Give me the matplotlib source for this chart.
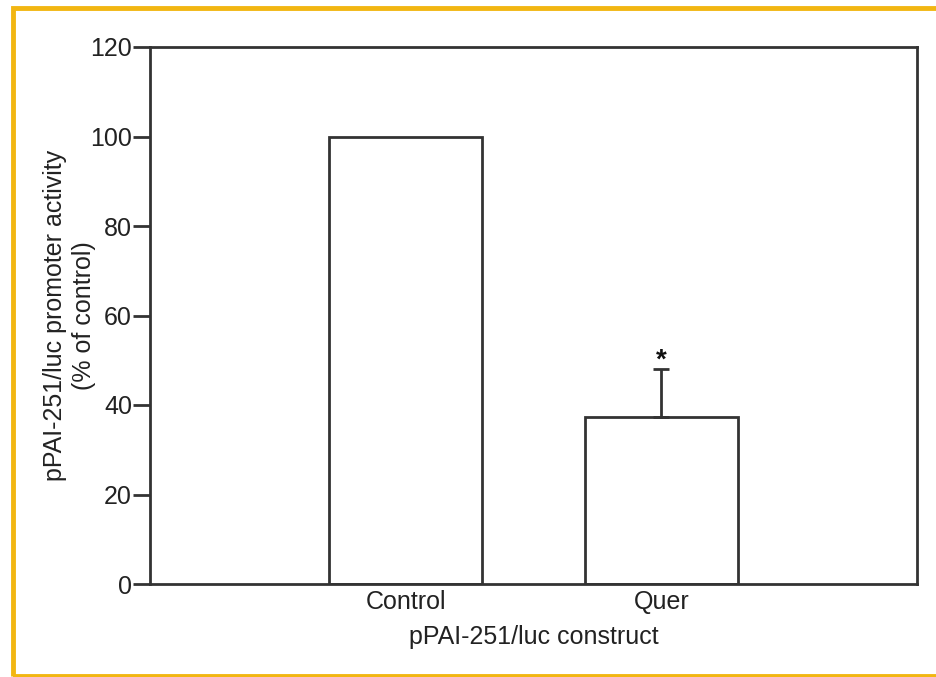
import matplotlib.pyplot as plt
from matplotlib.patches import Rectangle

plt.rcParams['font.family'] = ['Liberation Sans', 'DejaVu Sans']

# data
groups = ["Control", "Quer"]
activity = [100, 37.3]
err_up = [0, 10.7]
marks = ["", "*"]

fig = plt.figure(figsize=(9.37, 6.77), dpi=100)
ax = fig.add_axes([150/937, 1 - 584/677, (917-150)/937, (584-47)/677])

dark = "#333333"
txt = "#222222"
pos = [1, 2]
ax.bar(pos, activity, width=0.6, color="white", edgecolor=dark, linewidth=2, zorder=2)
ax.errorbar(pos[1], activity[1], yerr=[[0], [err_up[1]]], fmt="none",
            ecolor=dark, elinewidth=2, capsize=6, capthick=2, zorder=3)
for x, v, e, m in zip(pos, activity, err_up, marks):
    if m:
        ax.text(x, v + e - 1.0, m, ha="center", va="bottom", fontsize=20,
                fontweight="bold", color="#111111")

ax.set_xlim(0, 3)
ax.set_ylim(0, 120)
ax.set_yticks(range(0, 121, 20))
ax.set_xticks(pos)
ax.set_xticklabels(groups)
ax.tick_params(axis="y", direction="out", length=12, width=2, color=dark,
               labelsize=18, pad=1, labelcolor=txt)
ax.tick_params(axis="x", length=0, labelsize=18, pad=4, labelcolor=txt)
for s in ax.spines.values():
    s.set_linewidth(2)
    s.set_color(dark)

ax.set_xlabel("pPAI-251/luc construct", fontsize=18, color=txt, labelpad=8)
ax.set_ylabel("pPAI-251/luc promoter activity\n(% of control)", fontsize=18,
              color=txt, labelpad=-4, linespacing=1.25)

# orange frame around the figure
fig.patches.append(Rectangle((12.5/937, 1/677), 1.2, 1 - 8/677 - 1/677,
                             transform=fig.transFigure, fill=False,
                             edgecolor="#F2B612", linewidth=3.5, clip_on=False))

fig.savefig("out.png", dpi=100)
